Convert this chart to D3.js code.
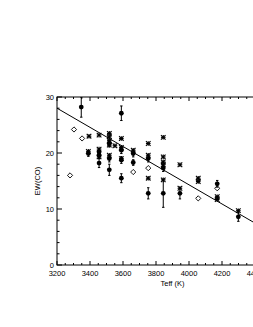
<!DOCTYPE html>
<html><head><meta charset="utf-8">
<script src="https://cdn.jsdelivr.net/npm/d3@7"></script>
<style>html,body{margin:0;padding:0;background:#fff;overflow:hidden}</style>
</head><body>
<svg id="c" width="253" height="327"></svg>
<script>
// Data (Teff in K, EW(CO) in Å)
const circleT   = [3347,3590,3455,3517,3590,3455,3455,3517,3517,3590,3590,3662,3662,3753,3753,3844,3844,3945,4171,4299,3390];
const circleEW  = [28.2,27.1,18.2,17.0,15.5,20.2,19.6,21.7,19.0,20.5,18.75,19.9,18.3,19.0,12.8,17.3,12.8,12.8,14.5,8.6,19.9];
const circleErr = [1.8,1.3,0.8,1.0,0.8,0.6,0.6,0.6,0.6,0.6,0.6,0.6,0.5,0.6,1.0,0.6,2.5,1.0,0.6,0.8,0.5];
const starT  = [3394,3455,3390,3455,3517,3517,3517,3517,3551,3590,3590,3590,3662,3753,3753,3753,3844,3844,3844,3844,3945,3945,4056,4056,4171,4171,4299,3455,3517,3844];
const starEW = [23.0,23.2,20.3,20.7,23.5,22.9,22.2,21.4,21.3,22.6,21.0,19.0,20.5,21.7,19.6,15.5,22.8,19.3,18.4,15.2,17.9,13.7,15.5,14.9,12.2,11.7,9.7,19.3,19.6,17.9];
const diamT  = [3279,3303,3352,3662,3753,4056,4171];
const diamEW = [16.0,24.2,22.6,16.6,17.3,11.9,13.7];
const fitT  = [3200,4600];
const fitEW = [28.0,4.06];
const xTicks = [3200,3400,3600,3800,4000,4200,4400,4600];
const yTicks = [0,10,20,30];

const L=57, R=288, T=97, B=265;
const svg=d3.select("#c");
const x=d3.scaleLinear().domain([3200,4600]).range([L,R]);
const y=d3.scaleLinear().domain([0,30]).range([B,T]);
const font="Liberation Sans, Arial, sans-serif";

const g=svg.append("g");
// frame
g.append("rect").attr("x",L).attr("y",T).attr("width",R-L).attr("height",B-T)
 .attr("fill","none").attr("stroke","#000").attr("stroke-width",1);

// x ticks (bottom and top), major 200, minor 50
const xMinor=d3.range(3200,4601,50);
xMinor.forEach(v=>{
  const major = v%200===0; const len = major?4:2;
  g.append("line").attr("x1",x(v)).attr("x2",x(v)).attr("y1",B).attr("y2",B-len).attr("stroke","#000");
  g.append("line").attr("x1",x(v)).attr("x2",x(v)).attr("y1",T).attr("y2",T+len).attr("stroke","#000");
});
const yMinor=d3.range(0,30.01,2);
yMinor.forEach(v=>{
  const major = v%10===0; const len = major?5:2.5;
  g.append("line").attr("x1",L).attr("x2",L+len).attr("y1",y(v)).attr("y2",y(v)).attr("stroke","#000");
  g.append("line").attr("x1",R).attr("x2",R-len).attr("y1",y(v)).attr("y2",y(v)).attr("stroke","#000");
});
// tick labels
g.selectAll(".xl").data(xTicks).enter().append("text")
 .attr("x",d=>x(d)).attr("y",B+11).attr("text-anchor","middle")
 .attr("font-family",font).attr("font-size",7.5).text(d=>d);
g.selectAll(".yl").data(yTicks).enter().append("text")
 .attr("x",L-3).attr("y",d=>y(d)+3).attr("text-anchor","end")
 .attr("font-family",font).attr("font-size",7.5).text(d=>d);
// axis titles
g.append("text").attr("x",(L+R)/2).attr("y",B+21).attr("text-anchor","middle")
 .attr("font-family",font).attr("font-size",7.5).text("Teff  (K)");
g.append("text").attr("transform",`translate(40,${(T+B)/2}) rotate(-90)`)
 .attr("text-anchor","middle").attr("font-family",font).attr("font-size",7.5).text("EW(CO)");

// clip
svg.append("clipPath").attr("id","pc").append("rect").attr("x",L).attr("y",T).attr("width",R-L).attr("height",B-T);
const p=svg.append("g").attr("clip-path","url(#pc)");

// fit line
p.append("path").datum(fitT.map((t,i)=>[t,fitEW[i]]))
 .attr("d",d3.line().x(d=>x(d[0])).y(d=>y(d[1])))
 .attr("stroke","#000").attr("stroke-width",1).attr("fill","none");

// error bars + circles
const circ=circleT.map((t,i)=>({t,ew:circleEW[i],e:circleErr[i]}));
circ.forEach(d=>{
  p.append("line").attr("x1",x(d.t)).attr("x2",x(d.t)).attr("y1",y(d.ew-d.e)).attr("y2",y(d.ew+d.e)).attr("stroke","#000");
  [d.ew-d.e,d.ew+d.e].forEach(v=>p.append("line").attr("x1",x(d.t)-1.2).attr("x2",x(d.t)+1.2).attr("y1",y(v)).attr("y2",y(v)).attr("stroke","#000"));
});
p.selectAll(".c").data(circ).enter().append("circle")
 .attr("cx",d=>x(d.t)).attr("cy",d=>y(d.ew)).attr("r",2.4).attr("fill","#000");

// asterisks
const star=starT.map((t,i)=>({t,ew:starEW[i]}));
const s=2.3;
star.forEach(d=>{
  const cx=x(d.t), cy=y(d.ew);
  const gg=p.append("g").attr("stroke","#000").attr("stroke-width",1.1);
  gg.append("line").attr("x1",cx-s).attr("x2",cx+s).attr("y1",cy).attr("y2",cy);
  gg.append("line").attr("x1",cx).attr("x2",cx).attr("y1",cy-s).attr("y2",cy+s);
  gg.append("line").attr("x1",cx-s).attr("x2",cx+s).attr("y1",cy-s).attr("y2",cy+s);
  gg.append("line").attr("x1",cx-s).attr("x2",cx+s).attr("y1",cy+s).attr("y2",cy-s);
});

// diamonds
const diam=diamT.map((t,i)=>({t,ew:diamEW[i]}));
p.selectAll(".d").data(diam).enter().append("path")
 .attr("d",d=>{const cx=x(d.t),cy=y(d.ew),r=2.6;return `M${cx},${cy-r}L${cx+r},${cy}L${cx},${cy+r}L${cx-r},${cy}Z`;})
 .attr("fill","none").attr("stroke","#000").attr("stroke-width",0.9);
</script>
</body></html>
